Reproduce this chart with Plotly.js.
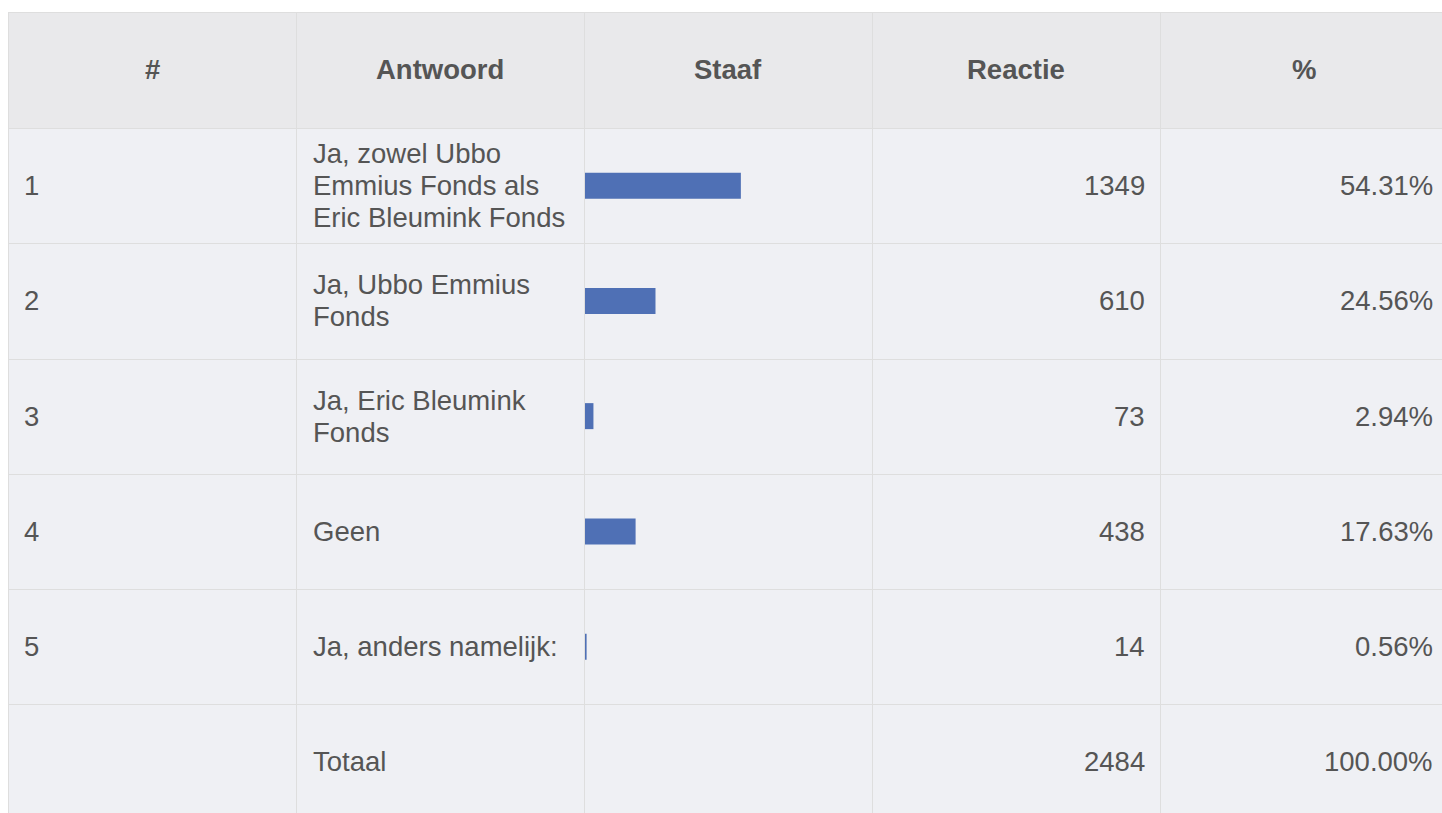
<!DOCTYPE html>
<html>
<head>
<meta charset="utf-8">
<script src="https://cdn.plot.ly/plotly-3.0.1.min.js"></script>
<style>html,body{margin:0;padding:0;background:#fff;overflow:hidden}#chart{width:1442px;height:813px}</style>
</head>
<body>
<div id="chart"></div>
<script>
// ---- data ----
const headers = ["#", "Antwoord", "Staaf", "Reactie", "%"];
const ids = ["1", "2", "3", "4", "5", ""];
const answers = [
  "Ja, zowel Ubbo<br>Emmius Fonds als<br>Eric Bleumink Fonds",
  "Ja, Ubbo Emmius<br>Fonds",
  "Ja, Eric Bleumink<br>Fonds",
  "Geen",
  "Ja, anders namelijk:",
  "Totaal"
];
const counts = [1349, 610, 73, 438, 14, 2484];
const pcts = [54.31, 24.56, 2.94, 17.63, 0.56, 100.00];
const barRows = [1, 2, 3, 4, 5];
const barPcts = [54.31, 24.56, 2.94, 17.63, 0.56];

// ---- layout geometry ----
const W = 1442, H = 813;
const L = 8, T = 12, colW = 288, headH = 116, rowH = 115.25;
const nRows = ids.length;
const X = x => x / W;
const Y = y => 1 - y / H;
const textColor = "#555555";
const font = "Liberation Sans, Arial, Helvetica, sans-serif";
const fs = 27.5;
const lineC = "#dedede";

const shapes = [];
const bodyTop = T + headH;
const right = L + colW * 5;
shapes.push({type: "rect", xref: "paper", yref: "paper", layer: "below",
  x0: X(L), x1: X(right), y0: Y(T), y1: Y(bodyTop), fillcolor: "#e9e9eb", line: {width: 0}});
shapes.push({type: "rect", xref: "paper", yref: "paper", layer: "below",
  x0: X(L), x1: X(right), y0: Y(bodyTop), y1: Y(bodyTop + nRows * rowH), fillcolor: "#eff0f4", line: {width: 0}});
// horizontal lines
const hl = [T, bodyTop];
for (let i = 1; i < nRows; i++) hl.push(bodyTop + i * rowH);
hl.forEach(y => shapes.push({type: "line", xref: "paper", yref: "paper", layer: "below",
  x0: X(L), x1: X(right), y0: Y(Math.round(y) + 0.5), y1: Y(Math.round(y) + 0.5), line: {color: lineC, width: 1}}));
// vertical lines
for (let c = 0; c <= 5; c++) {
  const x = L + c * colW;
  shapes.push({type: "line", xref: "paper", yref: "paper", layer: "below",
    x0: X(x + 0.5), x1: X(x + 0.5), y0: Y(T), y1: Y(bodyTop + nRows * rowH), line: {color: lineC, width: 1}});
}

const annotations = [];
function ann(text, x, y, anchor, bold) {
  annotations.push({xref: "paper", yref: "paper", x: X(x), y: Y(y), text: bold ? "<b>" + text + "</b>" : text,
    showarrow: false, xanchor: anchor, yanchor: "middle", borderpad: 0, borderwidth: 0,
    font: {family: font, size: fs, color: textColor}});
}
// headers
headers.forEach((h, c) => ann(h, L + c * colW + colW / 2, T + headH / 2, "center", true));
// body
const lineH = 32;
for (let r = 0; r < nRows; r++) {
  const cy = bodyTop + (r + 0.5) * rowH;
  ann(ids[r], L + 16, cy, "left", false);
  const lines = answers[r].split("<br>");
  lines.forEach((t, i) => ann(t, L + colW + 17, cy + (i - (lines.length - 1) / 2) * lineH, "left", false));
  ann(String(counts[r]), L + 4 * colW - 15, cy, "right", false);
  ann(pcts[r].toFixed(2) + "%", L + 5 * colW - 15, cy, "right", false);
}

// bar axis: y in row units, row k centred at k
const yTop = -(bodyTop / rowH) + 0.5;
const yBot = (H - bodyTop) / rowH + 0.5;

const trace = {
  type: "bar", orientation: "h", x: barPcts, y: barRows,
  xaxis: "x", yaxis: "y", width: 26 / rowH,
  marker: {color: "#4f70b5", line: {width: 0}},
  hoverinfo: "none"
};

const layout = {
  width: W, height: H,
  margin: {l: 0, r: 0, t: 0, b: 0, pad: 0},
  paper_bgcolor: "#ffffff", plot_bgcolor: "rgba(0,0,0,0)",
  showlegend: false,
  xaxis: {domain: [X(L + 2 * colW + 1), X(L + 3 * colW)], range: [0, 100], visible: false, fixedrange: true},
  yaxis: {domain: [0, 1], range: [yBot, yTop], visible: false, fixedrange: true},
  shapes: shapes,
  annotations: annotations
};

Plotly.newPlot("chart", [trace], layout, {displayModeBar: false, staticPlot: true});
</script>
</body>
</html>
